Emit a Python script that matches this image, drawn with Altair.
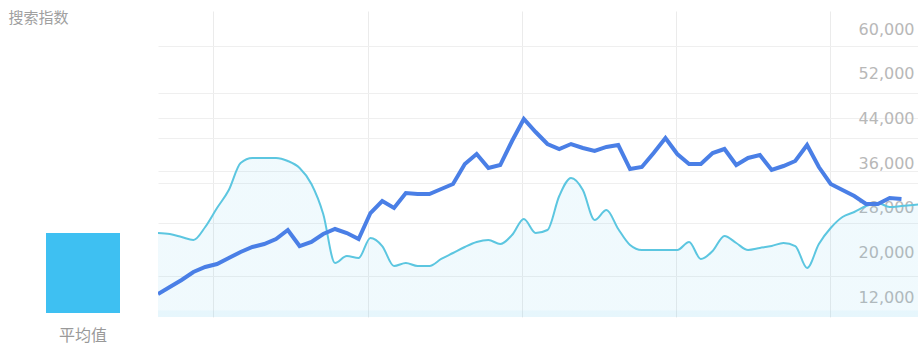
import altair as alt
import pandas as pd

# ---- data ----
blue_values = [12540, 13790, 15050, 16480, 17370, 17910, 18990, 20060, 20960, 21490,
               22390, 24000, 21130, 21850, 23280, 24180, 23460, 22390, 27040, 29190,
               27940, 30630, 30450, 30450, 31340, 32240, 35820, 37610, 35100, 35640,
               39940, 43880, 41550, 39400, 38510, 39400, 38690, 38150, 38870, 39220,
               34920, 35280, 37790, 40480, 37610, 35820, 35820, 37790, 38510, 35640,
               36900, 37430, 34750, 35460, 36360, 39220, 35280, 32240, 31160, 30090,
               28660, 28660, 29730, 29550]
cyan_values = [23460, 23280, 22750, 22210, 24540, 27940, 31160, 36000, 36900, 36900,
               36900, 36360, 35100, 32240, 26870, 18090, 19340, 18990, 22570, 21130,
               17550, 18090, 17550, 17550, 18810, 19880, 20960, 21850, 22210, 21490,
               23100, 25970, 23460, 24000, 30090, 33310, 31160, 25790, 27580, 24180,
               21310, 20420, 20420, 20420, 20420, 21850, 18810, 20240, 22930, 21670,
               20420, 20780, 21130, 21670, 21130, 17190, 21490, 24360, 26330, 27220,
               28300, 28840, 28120, 28300, 28480, 28660]
avg_label = ["平均值"]
avg_value = [23460]
y_tick_values = [12000, 20000, 28000, 36000, 44000, 52000, 60000]
y_grid_values = [15760, 25250, 32420, 34570, 40480, 44060, 48540, 56950]
x_grid_values = [4.66, 17.8, 30.85, 43.9, 56.95]
title_text = "搜索指数"

n = len(cyan_values)
df = pd.DataFrame({
    "i": list(range(n)),
    "cyan": cyan_values,
    "blue": blue_values + [None] * (n - len(blue_values)),
})
avg_df = pd.DataFrame({"label": avg_label, "value": avg_value})

# ---- scales ----
y_scale = alt.Scale(domain=[8418, 63224], zero=False, nice=False)
x_scale = alt.Scale(domain=[0, 64.4], zero=False, nice=False)

x_axis = alt.Axis(values=x_grid_values, labels=False, ticks=False, domain=False,
                  grid=True, gridColor="#ebebeb", gridWidth=1, title=None)
grid_axis = alt.Axis(orient="left", values=y_grid_values, labels=False, ticks=False,
                     domain=False, grid=True, gridColor="#efefef", gridWidth=1, title=None)
label_axis = alt.Axis(orient="right", values=y_tick_values, format=",d", grid=False,
                      ticks=False, tickSize=0, domain=False, labelAlign="right",
                      labelBaseline="middle", labelPadding=0, offset=-4,
                      labelFont="DejaVu Sans", labelFontSize=16, labelColor="#b8b8b8",
                      title=None)

fill = alt.Gradient(
    gradient="linear", x1=0, x2=0, y1=0, y2=1,
    stops=[
        alt.GradientStop(color="rgba(90,195,235,0.09)", offset=0),
        alt.GradientStop(color="rgba(90,195,235,0.09)", offset=0.735),
        alt.GradientStop(color="rgba(90,195,235,0.15)", offset=0.745),
        alt.GradientStop(color="rgba(90,195,235,0.15)", offset=1),
    ],
)

base = alt.Chart(df)
area = base.mark_area(interpolate="monotone", clip=True, color=fill).encode(
    x=alt.X("i:Q", scale=x_scale, axis=x_axis),
    y=alt.Y("cyan:Q", scale=y_scale, axis=grid_axis),
)
cyan_line = base.mark_line(interpolate="monotone", clip=True, color="#5cc6e0",
                           strokeWidth=2).encode(
    x=alt.X("i:Q", scale=x_scale, axis=x_axis),
    y=alt.Y("cyan:Q", scale=y_scale, axis=None),
)
blue_line = base.mark_line(clip=True, color="#4a7fe6", strokeWidth=4,
                           strokeJoin="miter").encode(
    x=alt.X("i:Q", scale=x_scale, axis=x_axis),
    y=alt.Y("blue:Q", scale=y_scale, axis=label_axis),
)

main = alt.layer(area, cyan_line, blue_line).resolve_axis(y="independent").properties(
    width=760, height=306)

left = alt.Chart(avg_df).mark_bar(size=74, color="#3ec0f2", clip=True).encode(
    x=alt.X("label:N", axis=alt.Axis(labelAngle=0, ticks=False, domain=False,
                                     labelPadding=14, labelFontSize=16,
                                     labelFont="Noto Sans CJK SC", labelColor="#999999",
                                     title=None)),
    y=alt.Y("value:Q", scale=alt.Scale(domain=[9134, 63224], zero=False, nice=False),
            axis=alt.Axis(labels=False, ticks=False, domain=False, grid=False,
                          title=title_text, titleAngle=0, titleAlign="left",
                          titleBaseline="middle", titleX=0, titleY=6,
                          titleFont="Noto Sans CJK SC", titleFontSize=15,
                          titleFontWeight="normal", titleColor="#a0a0a0")),
).properties(width=150, height=302)

chart = alt.hconcat(left, main, spacing=0).properties(
    padding={"left": 8, "top": 10, "right": 0, "bottom": 4}
).configure_view(stroke=None).configure_concat(spacing=0)

chart.save("out.html", embed_options={"renderer": "svg", "actions": False})
